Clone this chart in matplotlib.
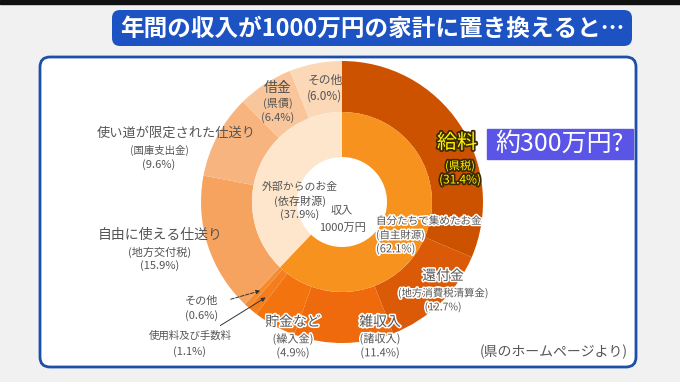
import matplotlib.pyplot as plt
import matplotlib.patheffects as pe
from matplotlib.patches import FancyBboxPatch, Rectangle

plt.rcParams['font.family'] = ['Noto Sans CJK JP', 'DejaVu Sans']

# inner ring: own revenue / dependent revenue (%)
inner_names = ['自主財源', '依存財源']
inner_vals = [62.1, 37.9]
inner_colors = ['#F7921F', '#FDE6CB']

# outer ring, clockwise from 12 o'clock (%)
outer_names = ['県税', '地方消費税清算金', '諸収入', '繰入金', '使用料及び手数料', 'その他',
               '地方交付税', '国庫支出金', '県債', 'その他']
outer_vals = [31.4, 12.7, 11.4, 4.9, 1.1, 0.6, 15.9, 9.6, 6.4, 6.0]
outer_colors = ['#CD5200', '#DA5A08', '#EF6A0C', '#F3730F', '#F47E1E', '#F58A2E',
                '#F6A35F', '#F8B47E', '#F9C69C', '#FBD8B8']

fig = plt.figure(figsize=(6.8, 3.82), dpi=100, facecolor='#f1f1f1')
ax = fig.add_axes([0, 0, 1, 1])

cx, cy = 342, 202
ax.add_patch(Rectangle((0, 0), 680, 4, color='#111111', zorder=0))
ax.add_patch(FancyBboxPatch((44, 61), 588, 302, boxstyle='round,pad=4,rounding_size=10',
                            facecolor='white', edgecolor='#1B4FA8', linewidth=2, zorder=0))
ax.add_patch(FancyBboxPatch((115, 13), 514, 30, boxstyle='round,pad=3,rounding_size=8',
                            facecolor='#1D52C2', edgecolor='none', zorder=5))
ax.text(372, 28.5, '年間の収入が1000万円の家計に置き換えると…', color='white', fontsize=17,
        fontweight='bold', ha='center', va='center', zorder=6)

# y axis is flipped, so counterclock in data reads clockwise on screen
ax.pie(outer_vals, colors=outer_colors, radius=141, center=(cx, cy), startangle=-90,
       counterclock=True, wedgeprops=dict(width=51, edgecolor='none'))
ax.pie(inner_vals, colors=inner_colors, radius=90, center=(cx, cy), startangle=-90,
       counterclock=True, wedgeprops=dict(width=45, edgecolor='none'))

ax.set_xlim(0, 680)
ax.set_ylim(382, 0)
ax.set_aspect('auto')
ax.axis('off')

gray = '#555555'
halo = [pe.withStroke(linewidth=2.2, foreground='white')]


def lab(x, y, lines, big=9.5, small=7.5, color=gray, effects=None, ha='center'):
    for i, (s, yy) in enumerate(lines):
        ax.text(x, yy, s, fontsize=big if i == 0 else small, color=color, ha=ha,
                va='center', path_effects=effects, zorder=8)


lab(325, 0, [('その他', 80), ('(6.0%)', 96)], big=8.5, small=8.5)
lab(278, 0, [('借金', 88), ('(県債)', 103), ('(6.4%)', 118)], big=10, small=8)
ax.text(176, 133, '使い道が限定された仕送り', fontsize=9.5, color=gray, ha='center', va='center')
lab(159, 0, [('(国庫支出金)', 150), ('(9.6%)', 165)], big=7.5, small=8)
lab(300, 0, [('外部からのお金', 187), ('(依存財源)', 201), ('(37.9%)', 215)], big=7.8, small=8)
lab(342, 0, [('収入', 211), ('1000万円', 228)], big=8, small=8)
ax.text(376, 221, '自分たちで集めたお金', fontsize=7.6, color=gray, ha='left', va='center',
        path_effects=halo)
ax.text(376, 235, '(自主財源)', fontsize=7.5, color=gray, ha='left', va='center', path_effects=halo)
ax.text(376, 249, '(62.1%)', fontsize=8, color=gray, ha='left', va='center', path_effects=halo)
lab(160, 0, [('自由に使える仕送り', 235), ('(地方交付税)', 252), ('(15.9%)', 266)], big=10, small=8)
lab(202, 0, [('その他', 301), ('(0.6%)', 316)], big=8, small=8)
lab(190, 0, [('使用料及び手数料', 336), ('(1.1%)', 352)], big=7.5, small=8)
lab(293, 0, [('貯金など', 322), ('(繰入金)', 339), ('(4.9%)', 353)], big=10, small=8, effects=halo)
lab(380, 0, [('雑収入', 322), ('(諸収入)', 339), ('(11.4%)', 353)], big=10, small=8, effects=halo)
lab(443, 0, [('還付金', 276), ('(地方消費税清算金)', 293), ('(12.7%)', 307)], big=10, small=7.5,
    effects=halo)

ax.annotate('', xy=(263, 290), xytext=(228, 300),
            arrowprops=dict(arrowstyle='-|>', color='#333333', lw=0.7, ls='--', mutation_scale=6))
ax.annotate('', xy=(268, 296), xytext=(218, 327),
            arrowprops=dict(arrowstyle='-|>', color='#333333', lw=0.7, mutation_scale=6))

yel = [pe.withStroke(linewidth=2.5, foreground='#3a2a00')]
ax.text(457, 143, '給料', fontsize=14.5, color='#FFF200', ha='center', va='center',
        path_effects=yel, zorder=9)
ax.text(460, 166, '(県税)', fontsize=8, color='#FFF200', ha='center', va='center',
        path_effects=yel, zorder=9)
ax.text(460, 180, '(31.4%)', fontsize=8.5, color='#FFF200', ha='center', va='center',
        path_effects=yel, zorder=9)

ax.add_patch(Rectangle((487, 129), 146, 30, color='#5A55E6', zorder=8))
ax.text(560, 144, '約300万円?', fontsize=18, color='white', ha='center', va='center', zorder=9)

ax.text(628, 352, '(県のホームページより)', fontsize=10, color=gray, ha='right', va='center')

fig.savefig('out.png', dpi=100, facecolor=fig.get_facecolor())
